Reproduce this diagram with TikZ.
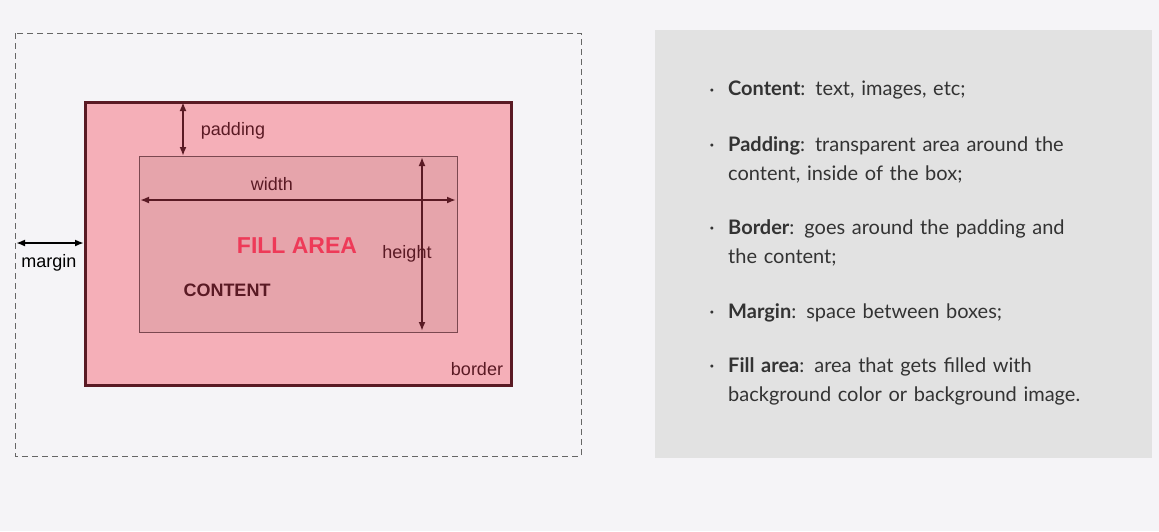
\documentclass[tikz,border=0pt]{standalone}
\usepackage{fontspec}
\setmainfont{Liberation Sans}
\newfontfamily\lato{Lato}
\usetikzlibrary{arrows.meta}
\definecolor{bg}{HTML}{F5F4F7}
\definecolor{panel}{HTML}{E2E2E2}
\definecolor{dark}{HTML}{5A1A24}
\definecolor{boxfill}{HTML}{F5AFB8}
\definecolor{contfill}{HTML}{E6A4AB}
\definecolor{fillred}{HTML}{EE3A58}
\definecolor{txt}{HTML}{333333}
\tikzset{
  dim/.style={{Latex[length=9pt,width=7pt]}-{Latex[length=9pt,width=7pt]}, line width=1.8pt, dark},
  lbl/.style={font=\fontsize{18}{20}\selectfont, text=dark, inner sep=0pt},
  item/.style={font=\lato\fontsize{20}{29}\selectfont, text=txt, align=left, anchor=north west, inner sep=0pt, text width=380pt},
  dot/.style={font=\lato\fontsize{20}{20}\selectfont, text=txt, inner sep=0pt}
}
\begin{document}
\begin{tikzpicture}[x=1pt,y=-1pt]
\fill[bg] (0,0) rectangle (1159,531);
\useasboundingbox (0,0) rectangle (1159,531);
\draw[dashed, line width=1pt, gray!80!black, dash pattern=on 6pt off 4pt] (15,33) rectangle (581,456);
\draw[fill=boxfill, draw=dark, line width=3pt] (85,102) rectangle (511,385);
\draw[fill=contfill, draw=dark!80, line width=0.7pt] (139,156) rectangle (457,332);
\coordinate (bt) at (183,102); \coordinate (ct) at (183,156);
\draw[dim] (bt) -- (ct);
\coordinate (wl) at (140,200); \coordinate (wr) at (456,200);
\draw[dim] (wl) -- (wr);
\coordinate (ht) at (422,157); \coordinate (hb) at (422,331);
\coordinate (ml) at (16,243); \coordinate (mr) at (84,243);
\node[lbl] (pad) at (233,131) {padding};
\node[lbl] (wid) at (272,184) {width};
\node[lbl] (hei) at (407,254) {height};
\node[lbl] (bor) at (477,369) {border};
\node[lbl, text=black] (mar) at (49,263) {margin};
\node[font=\bfseries\fontsize{23}{24}\selectfont, text=fillred, inner sep=0pt] (fa) at (297,246) {FILL AREA};
\node[font=\bfseries\fontsize{18}{20}\selectfont, text=dark, inner sep=0pt] (co) at (227,290) {CONTENT};
\draw[dim] (ht) -- (hb);
\draw[dim, black] (ml) -- (mr);
\fill[panel] (655,30) rectangle (1152,458);
\foreach \y/\t [count=\i] in {
  81/{\textbf{Content}: text, images, etc;},
  136/{\textbf{Padding}: transparent area around the\\content, inside of the box;},
  219/{\textbf{Border}: goes around the padding and\\the content;},
  303/{\textbf{Margin}: space between boxes;},
  357/{\textbf{Fill area}: area that gets filled with\\background color or background image.}}{
  \node[dot] (d\i) at (712,\y+12) {·};
  \node[item] (t\i) at (728,\y) {\t};
}
\end{tikzpicture}
\end{document}
